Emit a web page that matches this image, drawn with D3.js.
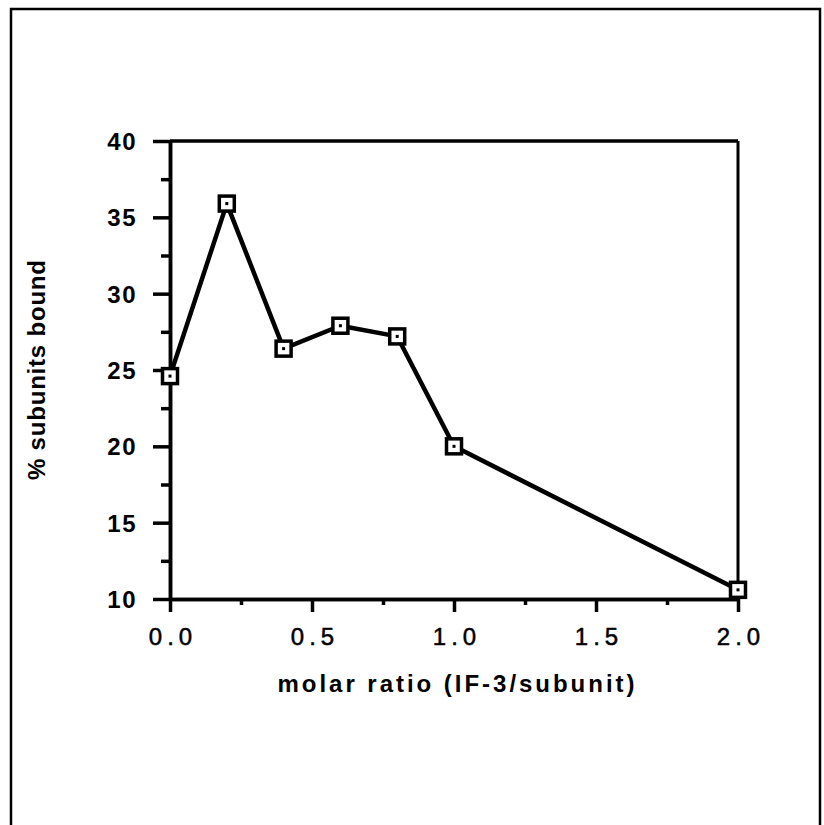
<!DOCTYPE html>
<html>
<head>
<meta charset="utf-8">
<script src="https://cdn.jsdelivr.net/npm/d3@7/dist/d3.min.js"></script>
<style>
  html, body { margin: 0; padding: 0; background: #fff; }
  svg { display: block; }
  text { font-family: "Liberation Sans", Arial, Helvetica, sans-serif; fill: #000; }
</style>
</head>
<body>
<svg id="chart" width="824" height="825"></svg>
<script>
// ---- data ----
const molarRatio = [0, 0.2, 0.4, 0.6, 0.8, 1.0, 2.0];
const percentBound = [24.6, 35.9, 26.4, 27.9, 27.2, 20.0, 10.6];
const xMajorTicks = [0, 0.5, 1.0, 1.5, 2.0];
const xMinorTicks = [0.25, 0.75, 1.25, 1.75];
const yMajorTicks = [10, 15, 20, 25, 30, 35, 40];
const yMinorTicks = [12.5, 17.5, 22.5, 27.5, 32.5, 37.5];
const xTitle = "molar ratio (IF-3/subunit)";
const yTitle = "% subunits bound";

const svg = d3.select("#chart");

// outer frame
svg.append("rect")
  .attr("x", 11).attr("y", 9)
  .attr("width", 809).attr("height", 840)
  .attr("fill", "none").attr("stroke", "#000").attr("stroke-width", 2.5);

const x = d3.scaleLinear().domain([0, 2]).range([170, 738]);
const y = d3.scaleLinear().domain([10, 40]).range([599, 141]);

// box (top and right)
svg.append("line")
  .attr("x1", x(0)).attr("x2", x(2)).attr("y1", y(40)).attr("y2", y(40))
  .attr("stroke", "#000").attr("stroke-width", 3.5);
svg.append("line")
  .attr("x1", x(2)).attr("x2", x(2)).attr("y1", y(40)).attr("y2", y(10))
  .attr("stroke", "#000").attr("stroke-width", 3);

// x axis
const gxMinor = svg.append("g").attr("transform", `translate(0,${y(10)})`)
  .call(d3.axisBottom(x).tickValues(xMinorTicks).tickSize(6).tickSizeOuter(0).tickFormat(""));
const gx = svg.append("g").attr("transform", `translate(0,${y(10)})`)
  .call(d3.axisBottom(x).tickValues(xMajorTicks).tickSize(13).tickSizeOuter(0).tickPadding(0)
    .tickFormat(d3.format(".1f")));
[gx, gxMinor].forEach(g => {
  g.select(".domain").attr("stroke-width", 3.5);
  g.selectAll(".tick line").attr("stroke-width", 3.5);
});
gx.selectAll(".tick text")
  .attr("y", 46).attr("dy", 0).attr("dx", 2.5)
  .attr("font-size", 24).attr("letter-spacing", "5px")
  .attr("stroke", "#000").attr("stroke-width", 0.5);

// y axis
const gyMinor = svg.append("g").attr("transform", `translate(${x(0)},0)`)
  .call(d3.axisLeft(y).tickValues(yMinorTicks).tickSize(9).tickSizeOuter(0).tickFormat(""));
const gy = svg.append("g").attr("transform", `translate(${x(0)},0)`)
  .call(d3.axisLeft(y).tickValues(yMajorTicks).tickSize(17).tickSizeOuter(0).tickFormat(d3.format("d")));
[gy, gyMinor].forEach(g => {
  g.select(".domain").attr("stroke-width", 3.5);
  g.selectAll(".tick line").attr("stroke-width", 3.5);
});
gy.selectAll(".tick text")
  .attr("x", -33).attr("dy", 8.5)
  .attr("font-size", 24).attr("font-weight", "bold").attr("letter-spacing", "1.5px");

// axis titles
svg.append("text")
  .attr("x", 456).attr("y", 692)
  .attr("text-anchor", "middle")
  .attr("font-size", 24).attr("font-weight", "bold")
  .attr("textLength", 357).attr("lengthAdjust", "spacing")
  .text(xTitle);

svg.append("text")
  .attr("transform", `translate(45,370) rotate(-90)`)
  .attr("text-anchor", "middle")
  .attr("font-size", 24).attr("font-weight", "bold")
  .attr("textLength", 220).attr("lengthAdjust", "spacing")
  .text(yTitle);

// data line
const pts = molarRatio.map((d, i) => [d, percentBound[i]]);
svg.append("path")
  .datum(pts)
  .attr("fill", "none").attr("stroke", "#000").attr("stroke-width", 4.5)
  .attr("stroke-linejoin", "round")
  .attr("d", d3.line().x(d => x(d[0])).y(d => y(d[1])));

// markers
const m = svg.append("g").selectAll("g").data(pts).join("g")
  .attr("transform", d => `translate(${x(d[0])},${y(d[1])})`);
m.append("rect")
  .attr("x", -7.5).attr("y", -7.5).attr("width", 15).attr("height", 15)
  .attr("fill", "#fff").attr("stroke", "#000").attr("stroke-width", 3.5);
m.append("rect")
  .attr("x", -1.5).attr("y", -1.5).attr("width", 3).attr("height", 3)
  .attr("fill", "#000");
</script>
</body>
</html>
